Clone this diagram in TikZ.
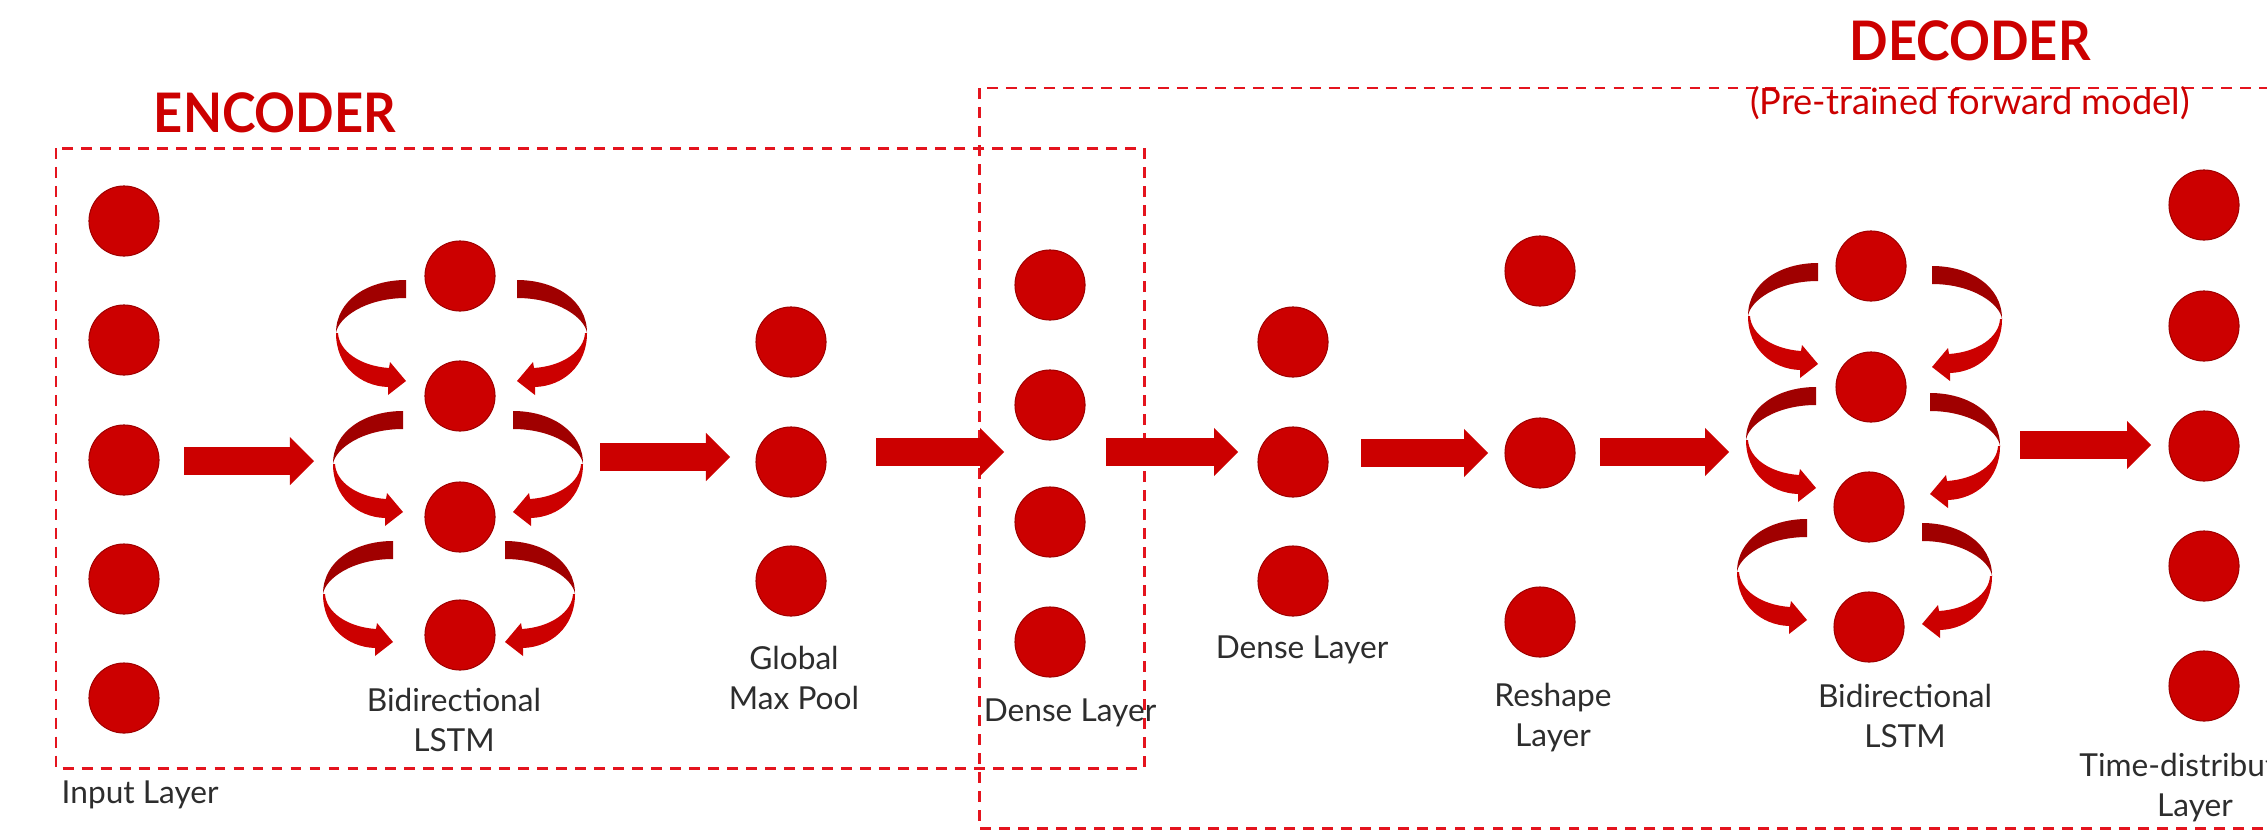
\documentclass[tikz,border=0pt]{standalone}
\usepackage{fontspec}
\setmainfont{Lato}
\newfontfamily\headfont[FakeStretch=0.93]{Lato}
\usetikzlibrary{arrows.meta}

\definecolor{nred}{RGB}{204,0,0}
\definecolor{dred}{RGB}{160,0,0}
\definecolor{boxred}{RGB}{228,20,30}
\definecolor{txt}{RGB}{45,45,45}

% one twisted recurrent arrow beside an LSTM cell:
% #1 upper cell, #2 side (1 left, -1 right), #3/#4 offset
\newcommand\twist[4]{%
  \begin{scope}[shift={(#1)}, shift={(#3,#4)}, xscale=#2]
    \fill[twistback] (-54,4) .. controls (-92,4) and (-124,24) .. (-124,57)
      .. controls (-122,42) and (-95,22) .. (-54,22) -- cycle;
    \fill[twistfront] (-124,57) .. controls (-124,90) and (-100,110) .. (-72,111)
      -- (-72,119) -- (-54,105) -- (-70,86) -- (-71,92)
      .. controls (-100,90) and (-121,75) .. (-122,57) -- cycle;
  \end{scope}}

\begin{document}
\begin{tikzpicture}[x=0.01cm, y=-0.01cm,
  neuron/.style={circle, fill=nred, draw=dred, line width=0.3pt,
    minimum size=0.70cm, inner sep=0pt},
  layerlabel/.style={font=\fontsize{9}{11.4}\selectfont, text=txt,
    align=center, inner sep=0pt, anchor=north},
  headline/.style={font=\fontsize{15.5}{18}\selectfont\headfont\bfseries, text=nred, inner sep=0pt},
  groupbox/.style={draw=boxred, line width=0.85pt, dash pattern=on 3.1pt off 2.3pt},
  blockarrow/.style={draw=nred, line width=0.28cm,
    -{Triangle[width=0.48cm, length=0.24cm, line width=0pt]}},
  twistback/.style={fill=dred},
  twistfront/.style={fill=nred},
]
\useasboundingbox (0,0) rectangle (2267,833);

% group frames
\draw[groupbox] (56,148) rectangle (1144,768);
\draw[groupbox] (2320,828) -- (979,828) -- (979,88) -- (2320,88);

% titles
\node[headline] (enc) at (275,113) {ENCODER};
\node[headline] (dec) at (1970,41) {DECODER};
\node[font=\fontsize{10.3}{12}\selectfont, text=nred, inner sep=0pt] (pre) at (1970,103)
  {(Pre-trained forward model)};

% recurrent arrows of the two LSTM layers
\coordinate (eu1) at (460,276);
\coordinate (eu2) at (460,396);
\coordinate (eu3) at (460,517);
\coordinate (du1) at (1871,266);
\coordinate (du2) at (1871,387);
\coordinate (du3) at (1869,507);
\twist{eu1}{1}{0}{0}   \twist{eu1}{-1}{3}{0}
\twist{eu2}{1}{-3}{11} \twist{eu2}{-1}{-1}{11}
\twist{eu3}{1}{-13}{20} \twist{eu3}{-1}{-9}{20}
\twist{du1}{1}{1}{-7}  \twist{du1}{-1}{7}{-4}
\twist{du2}{1}{-1}{-4} \twist{du2}{-1}{5}{2}
\twist{du3}{1}{-8}{8}  \twist{du3}{-1}{-1}{12}

% neurons
\foreach \i/\y in {1/221,2/340,3/460,4/579,5/698}
  \node[neuron] (in\i) at (124,\y) {};
\foreach \i/\y in {1/276,2/396,3/517,4/635}
  \node[neuron] (eb\i) at (460,\y) {};
\foreach \i/\y in {1/342,2/462,3/581}
  \node[neuron] (gp\i) at (791,\y) {};
\foreach \i/\y in {1/285,2/405,3/522,4/642}
  \node[neuron] (ed\i) at (1050,\y) {};
\foreach \i/\y in {1/342,2/462,3/581}
  \node[neuron] (dd\i) at (1293,\y) {};
\foreach \i/\y in {1/271,2/453,3/622}
  \node[neuron] (rs\i) at (1540,\y) {};
\foreach \i/\x/\y in {1/1871/266,2/1871/387,3/1869/507,4/1869/627}
  \node[neuron] (db\i) at (\x,\y) {};
\foreach \i/\y in {1/205,2/326,3/446,4/566,5/686}
  \node[neuron] (td\i) at (2204,\y) {};

% layer-to-layer arrows
\coordinate (a1s) at (184,461);  \coordinate (a1e) at (314,461);
\coordinate (a2s) at (600,457);  \coordinate (a2e) at (730,457);
\coordinate (a3s) at (876,452);  \coordinate (a3e) at (1004,452);
\coordinate (a4s) at (1106,452); \coordinate (a4e) at (1238,452);
\coordinate (a5s) at (1361,453); \coordinate (a5e) at (1488,453);
\coordinate (a6s) at (1600,452); \coordinate (a6e) at (1729,452);
\coordinate (a7s) at (2020,445); \coordinate (a7e) at (2151,445);
\foreach \k in {1,...,7}
  \draw[blockarrow] (a\k s) -- (a\k e);

% layer names
\node[layerlabel, anchor=north west] (lin) at (61,780) {Input Layer};
\node[layerlabel] (leb) at (454,687) {Bidirectional\\LSTM};
\node[layerlabel] (lgp) at (794,645) {Global\\Max Pool};
\node[layerlabel] (led) at (1070,698) {Dense Layer};
\node[layerlabel] (ldd) at (1302,635) {Dense Layer};
\node[layerlabel] (lrs) at (1553,682) {Reshape\\Layer};
\node[layerlabel] (ldb) at (1905,683) {Bidirectional\\LSTM};
\node[layerlabel] (ltd) at (2195,752) {Time-distributed\\Layer};
\end{tikzpicture}
\end{document}
